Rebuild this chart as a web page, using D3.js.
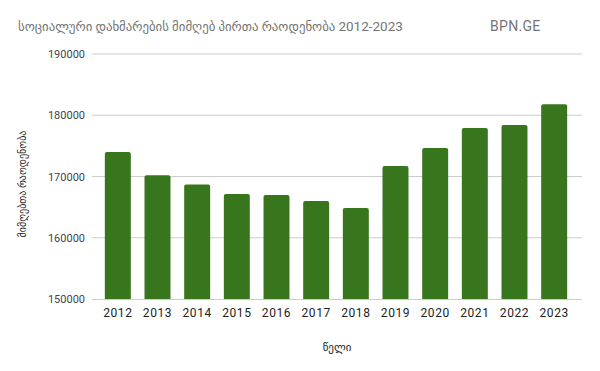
<!DOCTYPE html>
<html>
<head>
<meta charset="utf-8">
<script src="https://cdn.jsdelivr.net/npm/d3@7"></script>
<style>
  body { margin: 0; background: #fff; }
  svg { display: block; font-family: Roboto, "DejaVu Sans", sans-serif; }
</style>
</head>
<body>
<div id="bar-chart"></div>
<script>
// data
var years = ["2012", "2013", "2014", "2015", "2016", "2017", "2018", "2019", "2020", "2021", "2022", "2023"];
var recipients = [174000, 170200, 168700, 167150, 167000, 166000, 164850, 171700, 174650, 177900, 178400, 181800];
var yTicks = [150000, 160000, 170000, 180000, 190000];

var titleText = "სოციალური დახმარების მიმღებ პირთა რაოდენობა ";
var titleYears = "2012-2023";
var xLabel = "წელი";
var yLabel = "მიმღებთა რაოდენობა";

var width = 600, height = 371;
var plot = {left: 92, right: 582, top: 54, bottom: 299};

var svg = d3.select("#bar-chart")
    .append("svg")
    .attr("width", width)
    .attr("height", height);

var data = years.map(function(y, i) { return {year: y, value: recipients[i]}; });

// X axis
var x = d3.scaleBand()
    .range([98, 574])
    .domain(years)
    .paddingInner(0.345)
    .paddingOuter(0.1725);

// Y axis
var y = d3.scaleLinear()
    .domain([150000, 190000])
    .range([plot.bottom, plot.top]);

// gridlines
svg.append("g")
    .selectAll("line")
    .data(yTicks.slice(1))
    .enter()
    .append("line")
    .attr("x1", plot.left)
    .attr("x2", plot.right)
    .attr("y1", function(d) { return y(d); })
    .attr("y2", function(d) { return y(d); })
    .attr("stroke", "#cccccc")
    .attr("stroke-width", 1);

// y tick labels
svg.append("g")
    .selectAll("text")
    .data(yTicks)
    .enter()
    .append("text")
    .attr("x", 85)
    .attr("y", function(d) { return y(d) + 4; })
    .attr("text-anchor", "end")
    .attr("font-size", 11)
    .attr("fill", "#444")
    .text(function(d) { return d; });

// Bars (rounded top corners)
var r = 2;
svg.selectAll("mybar")
    .data(data)
    .enter()
    .append("path")
    .attr("d", function(d) {
        var x0 = x(d.year), w = x.bandwidth(), y0 = y(d.value), yb = y(150000);
        return "M" + x0 + "," + yb +
            "V" + (y0 + r) +
            "Q" + x0 + "," + y0 + " " + (x0 + r) + "," + y0 +
            "H" + (x0 + w - r) +
            "Q" + (x0 + w) + "," + y0 + " " + (x0 + w) + "," + (y0 + r) +
            "V" + yb + "Z";
    })
    .attr("fill", "#38761d");

// baseline
svg.append("line")
    .attr("x1", plot.left)
    .attr("x2", plot.right)
    .attr("y1", plot.bottom + 0.5)
    .attr("y2", plot.bottom + 0.5)
    .attr("stroke", "#cccccc");

// x tick labels
var xAxis = svg.append("g")
    .attr("transform", "translate(0," + plot.bottom + ")")
    .call(d3.axisBottom(x).tickSize(0).tickPadding(9));
xAxis.select(".domain").remove();
xAxis.selectAll("text")
    .attr("font-family", "Roboto, 'DejaVu Sans', sans-serif")
    .attr("font-size", 12)
    .attr("letter-spacing", "0.6px")
    .attr("fill", "#222");

// title
var title = svg.append("text")
    .attr("x", 18)
    .attr("y", 31)
    .attr("fill", "#757575");
title.append("tspan")
    .attr("font-size", 12.8)
    .text(titleText);
title.append("tspan")
    .attr("font-size", 13.5)
    .text(titleYears);

svg.append("text")
    .attr("x", 490)
    .attr("y", 31)
    .attr("font-size", 14)
    .attr("letter-spacing", "0.3px")
    .attr("fill", "#757575")
    .text("BPN.GE");

// axis titles
svg.append("text")
    .attr("x", 337)
    .attr("y", 351)
    .attr("text-anchor", "middle")
    .attr("font-size", 11)
    .attr("fill", "#222")
    .text(xLabel);

svg.append("text")
    .attr("transform", "translate(26,184) rotate(-90)")
    .attr("text-anchor", "middle")
    .attr("font-size", 10)
    .attr("fill", "#222")
    .text(yLabel);
</script>
</body>
</html>
